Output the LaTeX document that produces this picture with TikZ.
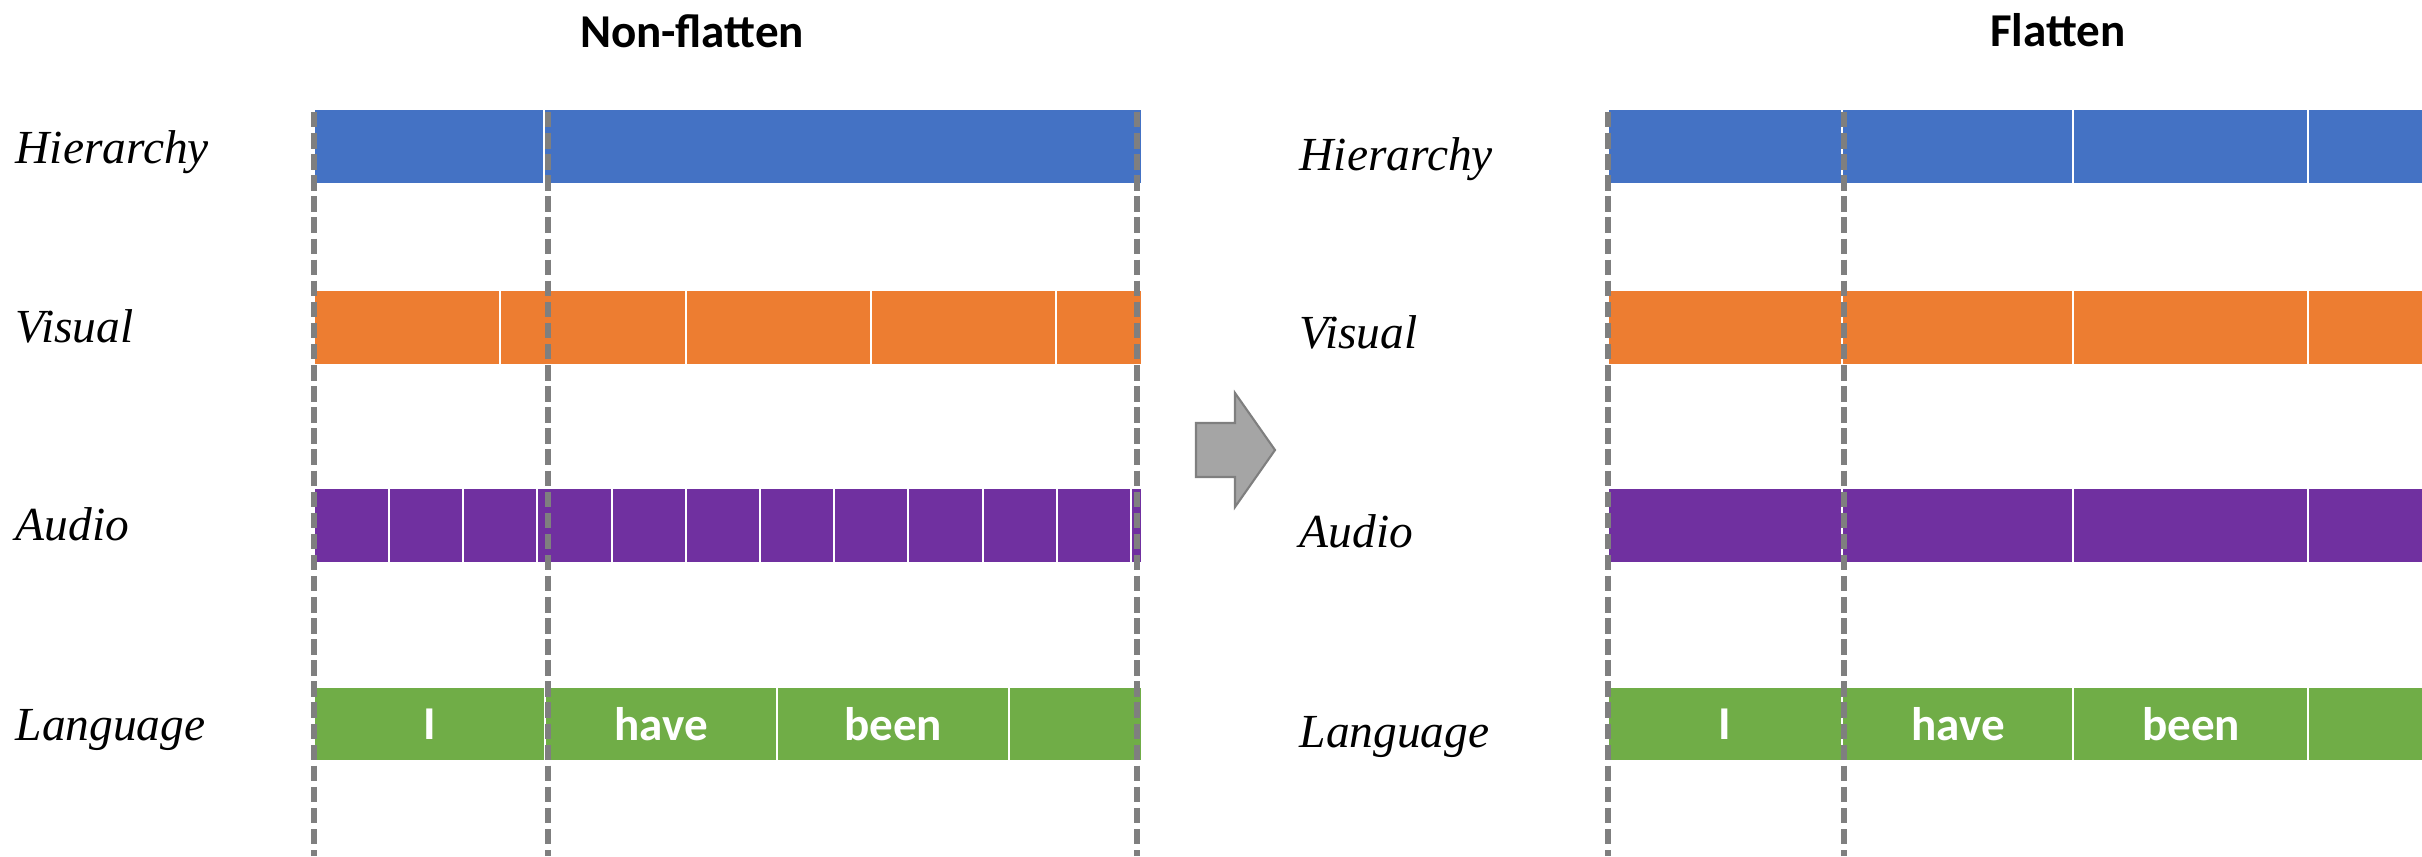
\documentclass[tikz,border=0pt]{standalone}
\usepackage{fontspec}
\setmainfont{Liberation Serif}
\newfontfamily\calibri{Carlito}
\usepackage{xcolor}
\definecolor{hierBlue}{HTML}{4472C4}
\definecolor{visOrange}{HTML}{ED7D31}
\definecolor{audPurple}{HTML}{7030A0}
\definecolor{langGreen}{HTML}{70AD47}
\definecolor{guideGray}{HTML}{7F7F7F}
\definecolor{arrowGray}{HTML}{A5A5A5}

\begin{document}
\begin{tikzpicture}[
    lab/.style={font=\fontsize{13.5}{16}\selectfont\itshape, inner sep=0pt, anchor=base west},
    title/.style={font=\calibri\bfseries\fontsize{13.4}{16}\selectfont, inner sep=0pt, anchor=base},
    word/.style={font=\calibri\bfseries\fontsize{13.4}{16}\selectfont, text=white, inner sep=0pt},
    divider/.style={white, line width=0.6pt},
    guide/.style={guideGray, line width=1.5pt, dash pattern=on 4.4pt off 1.6pt}]
			\useasboundingbox (0,0) rectangle (24.22,-8.56);

			% Titles
			\node[title] (titleL) at (6.92,-0.47) {Non-flatten};
			\node[title] (titleR) at (20.58,-0.46) {Flatten};

			% Row labels on the left
			\node[lab] (hierL) at (0.15,-1.63) {Hierarchy};
			\node[lab] (visL) at (0.15,-3.42) {Visual};
			\node[lab] (audL) at (0.15,-5.40) {Audio};
			\node[lab] (langL) at (0.15,-7.40) {Language};

			% Row labels on the right
			\node[lab] (hierR) at (12.99,-1.70) {Hierarchy};
			\node[lab] (visR) at (12.99,-3.48) {Visual};
			\node[lab] (audR) at (12.99,-5.47) {Audio};
			\node[lab] (langR) at (12.99,-7.47) {Language};

			% Bars, non-flatten
			\fill[hierBlue] (3.15,-1.10) rectangle (11.41,-1.83);
			\fill[visOrange] (3.15,-2.91) rectangle (11.41,-3.64);
			\fill[audPurple] (3.15,-4.89) rectangle (11.41,-5.62);
			\fill[langGreen] (3.15,-6.88) rectangle (11.41,-7.60);
			\draw[divider] (5.44,-1.10) -- (5.44,-1.83);
			\foreach \x in {5.00,6.86,8.71,10.56}
			\draw[divider] (\x,-2.91) -- (\x,-3.64);
			\foreach \x in {3.89,4.63,5.37,6.12,6.86,7.60,8.34,9.08,9.83,10.57,11.31}
			\draw[divider] (\x,-4.89) -- (\x,-5.62);
			\foreach \x in {5.45,7.77,10.09}
			\draw[divider] (\x,-6.88) -- (\x,-7.60);

			% Bars, flatten
			\fill[hierBlue] (16.09,-1.10) rectangle (24.22,-1.83);
			\fill[visOrange] (16.09,-2.91) rectangle (24.22,-3.64);
			\fill[audPurple] (16.09,-4.89) rectangle (24.22,-5.62);
			\fill[langGreen] (16.09,-6.88) rectangle (24.22,-7.60);
			\foreach \x in {18.42,20.73,23.08}
			\foreach \t/\b in {-1.10/-1.83,-2.91/-3.64,-4.89/-5.62,-6.88/-7.60}
			\draw[divider] (\x,\t) -- (\x,\b);

			% Words
			\node[word] (iL) at (4.30,-7.24) {I};
			\node[word] (haveL) at (6.61,-7.24) {have};
			\node[word] (beenL) at (8.93,-7.24) {been};
			\node[word] (iR) at (17.25,-7.24) {I};
			\node[word] (haveR) at (19.58,-7.24) {have};
			\node[word] (beenR) at (21.91,-7.24) {been};

			% Dashed guides
			\foreach \x in {3.14,5.48,11.37,16.08,18.44}
			\draw[guide] (\x,-1.12) -- (\x,-8.56);

			% Block arrow
			\draw[guideGray, fill=arrowGray, line width=0.6pt] (11.96,-4.23) -- (12.35,-4.23) -- (12.35,-3.93)
			-- (12.75,-4.50) -- (12.35,-5.07) -- (12.35,-4.77) -- (11.96,-4.77) -- cycle;
		\end{tikzpicture}
\end{document}
